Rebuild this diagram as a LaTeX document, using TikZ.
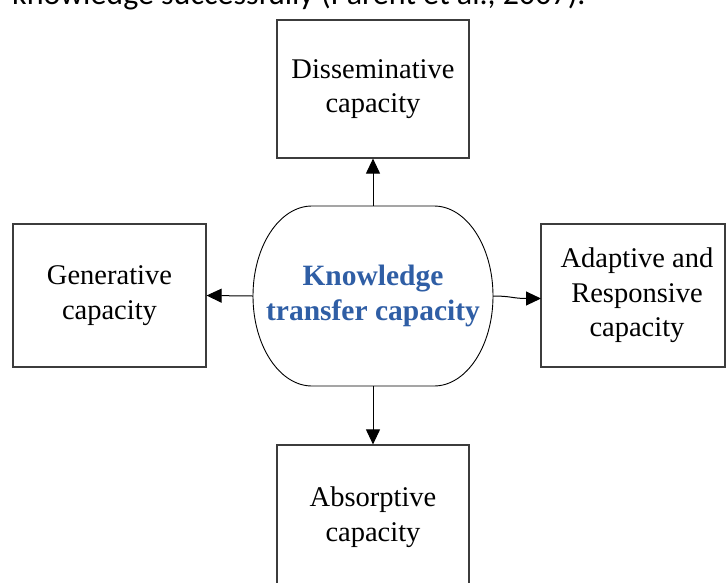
\documentclass[tikz,border=0pt]{standalone}
\usepackage{fontspec}
\setmainfont{Liberation Serif}
\newfontfamily\calibrifont{Carlito}
\usetikzlibrary{arrows.meta}
\definecolor{ktblue}{RGB}{47,94,165}
\definecolor{boxgrey}{RGB}{60,60,60}
\begin{document}
\begin{tikzpicture}[x=1pt,y=-1pt,
  capbox/.style={draw=boxgrey, line width=1.2pt, rectangle, align=center,
    inner sep=0pt, font=\fontsize{28.5}{34.5}\selectfont},
  link/.style={line width=1pt, -{Triangle[length=15pt,width=14pt]}}]
\useasboundingbox (0,0) rectangle (726,582);
\clip (0,0) rectangle (726,582);
\fill[white] (0,0) rectangle (726,582);

% cut-off line of surrounding text
\node[anchor=base west, inner sep=0pt, font=\calibrifont\fontsize{32}{38}\selectfont] (toptext) at (12,4)
  {knowledge successfully (Parent et al., 2007).};

% boxes
\node[capbox, minimum width=192pt, minimum height=138pt] (diss) at (373,89)
  {Disseminative\\capacity};
\node[capbox, minimum width=193pt, minimum height=143pt] (gen) at (109.5,295.5)
  {Generative\\capacity};
\node[capbox, minimum width=184pt, minimum height=143pt] (adapt) at (633,295.5)
  {\hspace*{8pt}Adaptive and\\\hspace*{8pt}Responsive\\\hspace*{8pt}capacity};
\node[capbox, minimum width=192pt, minimum height=144pt] (abs) at (373,517)
  {Absorptive\\capacity};

% central node
\node[rectangle, draw=none, minimum width=240pt, minimum height=180pt, align=center,
  inner sep=0pt, text=ktblue, font=\bfseries\fontsize{29.5}{35}\selectfont] (kt) at (373,296)
  {Knowledge\\transfer capacity};
\draw[line width=0.9pt, black]
  (312,206) -- (434,206)
  arc[start angle=-90, end angle=0, x radius=59, y radius=90]
  arc[start angle=0, end angle=90, x radius=59, y radius=90]
  -- (312,386)
  arc[start angle=90, end angle=180, x radius=59, y radius=90]
  arc[start angle=180, end angle=270, x radius=59, y radius=90];

% connectors
\coordinate (adaptin) at (541,298.5);
\draw[link] (kt.north) -- (diss.south);
\draw[link] (kt.west) -- (gen.east);
\draw[link] (kt.south) -- (abs.north);
\draw[link] (kt.east) .. controls +(18,0) and +(-28,0) .. (adaptin);
\end{tikzpicture}
\end{document}
